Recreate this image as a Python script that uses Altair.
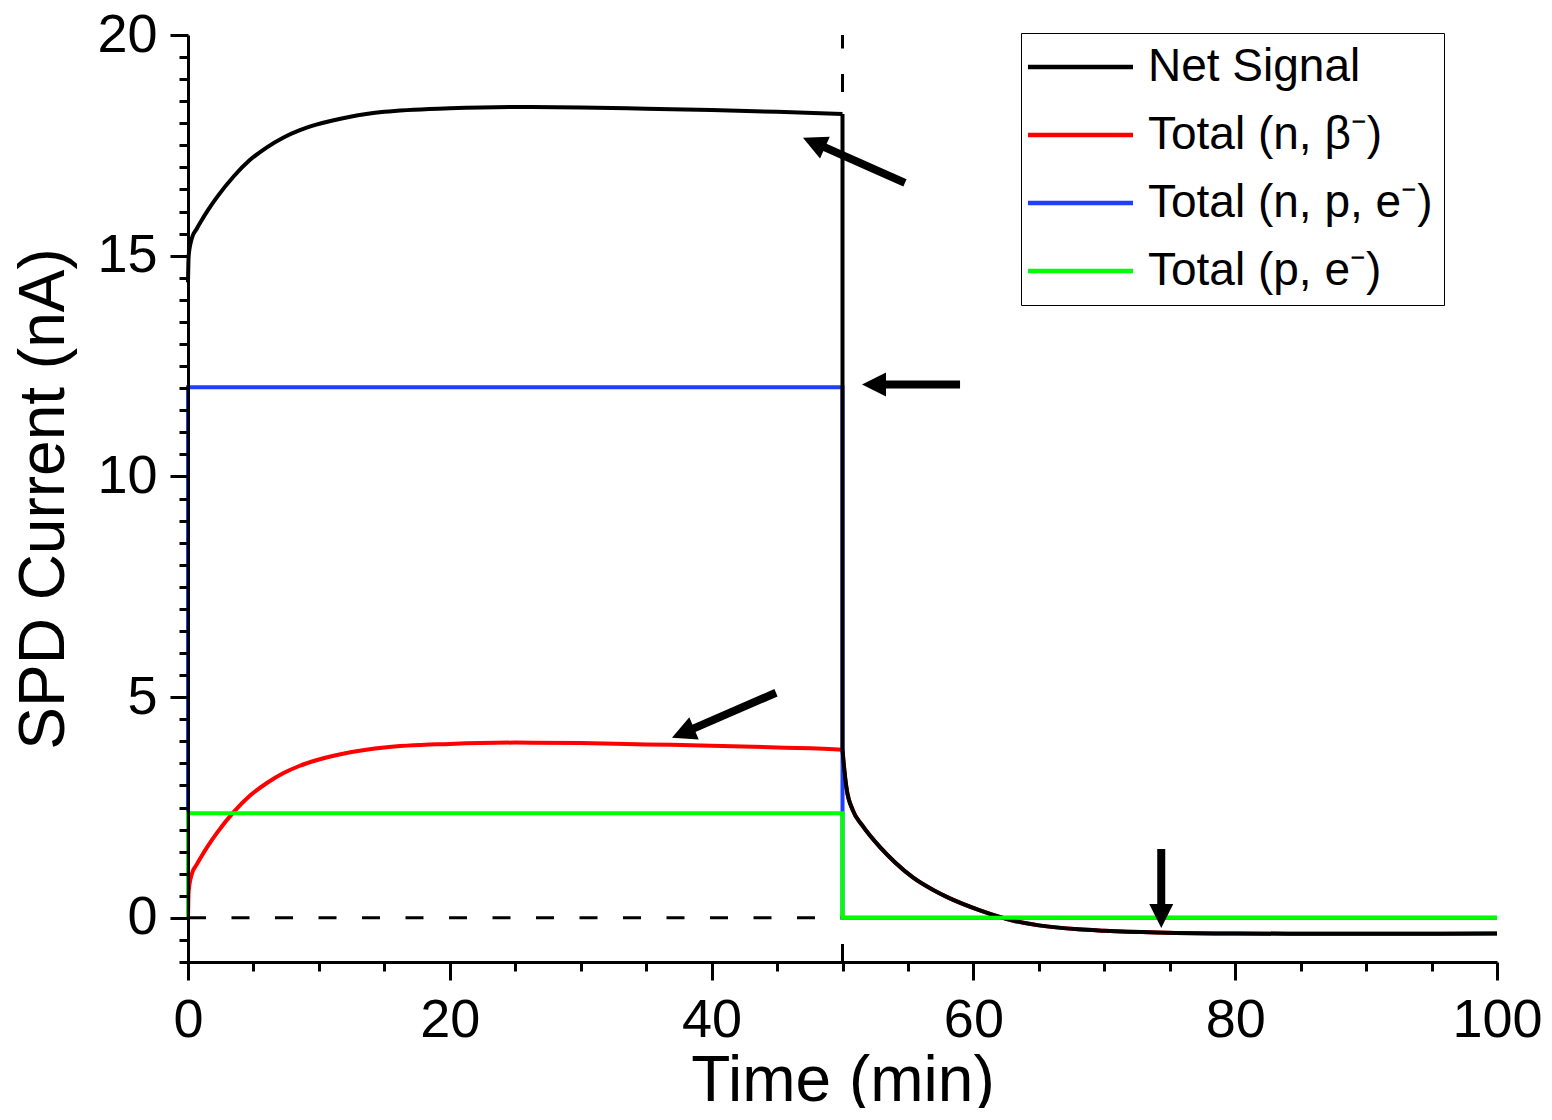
import altair as alt
import pandas as pd

SERIES = ["Net Signal", "Total (n, \u03b2\u207b)", "Total (n, p, e\u207b)", "Total (p, e\u207b)"]
COLORS = ["#000000", "#ff0000", "#1f3fff", "#00ff00"]

# before the switch-off at t = 50 min
T_PRE = [0, 0.05, 0.3, 0.65, 1, 1.5, 2.2, 3.5, 4.7, 6, 7.3, 8.5, 9.8, 12.4, 15, 20, 25, 30, 35, 40, 45, 50]
NET_PRE = [14.4, 15.0, 15.4, 15.6, 15.78, 16.02, 16.32, 16.8, 17.16, 17.45, 17.68, 17.84, 17.97, 18.15,
           18.26, 18.34, 18.37, 18.36, 18.33, 18.3, 18.26, 18.21]
RED_PRE = [0, 0.6, 1.0, 1.2, 1.38, 1.62, 1.92, 2.4, 2.76, 3.05, 3.28, 3.44, 3.57, 3.75,
           3.86, 3.94, 3.97, 3.96, 3.93, 3.9, 3.86, 3.81]
# after t = 50 min
T_POST = [50, 50.06, 50.3, 50.8, 51.5, 52.9, 54, 55.4, 57, 58, 60.5, 63, 65, 68, 70, 74, 80, 90, 100]
NET_POST = [3.8, 3.6, 2.95, 2.43, 2.1, 1.59, 1.26, 0.91, 0.62, 0.47, 0.17, -0.06, -0.17, -0.26,
            -0.29, -0.33, -0.355, -0.36, -0.355]
RED_POST = [3.8, 3.6, 2.95, 2.43, 2.1, 1.59, 1.26, 0.91, 0.62, 0.47, 0.17, -0.06, -0.17, -0.26,
            -0.29, -0.33, -0.355, -0.36, -0.355]
BLUE_T = [0, 0, 50, 50, 100]
BLUE_V = [0, 12.02, 12.02, 0, 0]
GREEN_T = [0, 0, 50, 50, 100]
GREEN_V = [0, 2.37, 2.37, 0, 0]

# annotation arrows (data coordinates)
ARROW_TAIL_X = [54.77, 58.98, 44.92, 74.35]
ARROW_TAIL_Y = [16.65, 12.08, 5.10, 1.56]
ARROW_BASE_X = [48.4, 53.02, 38.38, 74.35]
ARROW_BASE_Y = [17.49, 12.08, 4.26, 0.23]
ARROW_TIP_X = [46.98, 51.49, 36.97, 74.35]
ARROW_TIP_Y = [17.67, 12.08, 4.08, -0.23]
ARROW_ANGLE = [294, 270, 247, 180]

X_TICKS = list(range(0, 101, 5))
Y_TICKS = [v / 2 for v in range(-2, 41)]

rows = []
i = 0
def add(name, seg, ts, vs):
    global i
    for t, v in zip(ts, vs):
        rows.append({"t": t, "v": v, "series": name, "seg": seg, "i": i})
        i += 1

add(SERIES[0], "pre", T_PRE, NET_PRE)
add(SERIES[0], "drop", [T_PRE[-1], T_POST[0]], [NET_PRE[-1], NET_POST[0]])
add(SERIES[0], "post", T_POST, NET_POST)
add(SERIES[1], "all", T_PRE + T_POST[1:], RED_PRE + RED_POST[1:])
add(SERIES[2], "all", BLUE_T, BLUE_V)
add(SERIES[3], "all", GREEN_T, GREEN_V)
df = pd.DataFrame(rows)

arrows = pd.DataFrame({
    "x": ARROW_TAIL_X, "y": ARROW_TAIL_Y,
    "x2": ARROW_BASE_X, "y2": ARROW_BASE_Y,
    "tx": ARROW_TIP_X, "ty": ARROW_TIP_Y, "angle": ARROW_ANGLE,
})

FONT = "Liberation Sans"
x_scale = alt.Scale(domain=[0, 100], nice=False, zero=False)
y_scale = alt.Scale(domain=[-1, 20], nice=False, zero=False)

x_axis = alt.Axis(
    values=X_TICKS,
    labelExpr="datum.value % 20 === 0 ? format(datum.value, 'd') : ''",
    tickSize={"condition": {"test": "datum.value % 20 === 0", "value": 18}, "value": 9},
    title="Time (min)", titleX=654.5, titleY=138, titleAlign="center", titleBaseline="alphabetic",
    labelPadding=13, labelFlush=False, labelOverlap=False, grid=False, zindex=2,
)
y_axis = alt.Axis(
    values=Y_TICKS,
    labelExpr="datum.value % 5 === 0 ? format(datum.value, 'd') : ''",
    tickSize={"condition": {"test": "datum.value % 5 === 0", "value": 18}, "value": 9},
    title="SPD Current (nA)", titleX=-125, titleY=463.5, titleAngle=270, titleAlign="center",
    titleBaseline="alphabetic",
    labelPadding=13, labelFlush=False, labelOverlap=False, grid=False, zindex=2,
)

def X(field):
    return alt.X(field, type="quantitative", scale=x_scale, axis=x_axis)

def Y(field):
    return alt.Y(field, type="quantitative", scale=y_scale, axis=y_axis)

color = alt.Color(
    "series:N",
    scale=alt.Scale(domain=SERIES, range=COLORS),
    legend=alt.Legend(
        orient="none", legendX=833, legendY=-2, title=None,
        symbolType="M-2.08,0L6,0", symbolSize=676, symbolStrokeWidth=4.5,
        symbolFillColor="transparent",
        labelFont=FONT, labelFontSize=46, labelColor="black", labelOffset=70,
        padding=11, rowPadding=22, strokeColor="black", fillColor="white",
        cornerRadius=0, labelLimit=500,
    ),
)

vline = alt.Chart(pd.DataFrame({"x": [50], "y": [-1], "y2": [20]})).mark_rule(
    color="black", strokeWidth=3, strokeDash=[18, 25.5]
).encode(x=X("x"), y=Y("y"), y2="y2")

hline = alt.Chart(pd.DataFrame({"x": [0], "x2": [50], "y": [0]})).mark_rule(
    color="black", strokeWidth=3, strokeDash=[18, 25.5]
).encode(x=X("x"), x2="x2", y=Y("y"))

def series_layer(name, interp):
    return alt.Chart(df).transform_filter(alt.datum.series == name).mark_line(
        strokeWidth=4, strokeJoin="miter", interpolate=interp
    ).encode(x=X("t"), y=Y("v"), color=color, detail="seg:N", order="i:Q")

shafts = alt.Chart(arrows).mark_rule(color="black", strokeWidth=8, strokeCap="butt").encode(
    x=X("x"), y=Y("y"), x2="x2", y2="y2"
)
heads = alt.Chart(arrows).mark_point(
    shape="M0,0L-1,2L1,2Z", filled=True, size=576, color="black", opacity=1, strokeWidth=0
).encode(x=X("tx"), y=Y("ty"), angle=alt.Angle("angle:Q", scale=None))

chart = alt.layer(
    vline, hline,
    series_layer(SERIES[1], "monotone"), series_layer(SERIES[2], "linear"),
    series_layer(SERIES[0], "monotone"), series_layer(SERIES[3], "linear"),
    shafts, heads,
).properties(
    width=1309, height=927,
    autosize=alt.AutoSizeParams(type="none"),
    padding={"left": 180, "top": 27, "right": 47, "bottom": 146},
    background="white",
).configure_view(stroke=None).configure_axis(
    domainColor="black", domainWidth=3, tickColor="black", tickWidth=3,
    labelFont=FONT, labelFontSize=54, labelColor="black",
    titleFont=FONT, titleFontSize=64, titleColor="black", titleFontWeight="normal",
)

chart.save("out.html", embed_options={"renderer": "svg", "actions": False})
